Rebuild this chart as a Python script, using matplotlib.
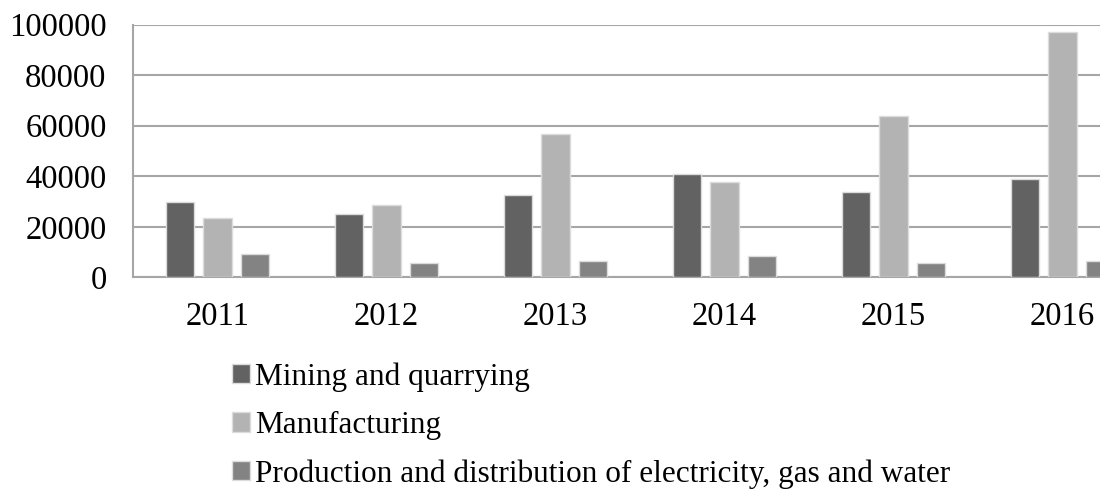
import matplotlib
matplotlib.use("Agg")
import matplotlib.pyplot as plt
import numpy as np

years = ["2011", "2012", "2013", "2014", "2015", "2016"]
mining = [30000, 25200, 32700, 41000, 33700, 39000]
manufacturing = [23600, 28600, 56600, 37600, 63700, 97200]
electricity = [9100, 5500, 6600, 8500, 5500, 6600]

series = [
    ("Mining and quarrying", mining, "#626262"),
    ("Manufacturing", manufacturing, "#b3b3b3"),
    ("Production and distribution of electricity, gas and water", electricity, "#838383"),
]

plt.rcParams["font.family"] = ["Liberation Serif", "DejaVu Serif"]

W, H = 1100, 492
fig = plt.figure(figsize=(W / 100, H / 100), dpi=100)
# axes run past the right edge of the figure, as in the source (clipped)
ax = fig.add_axes([133 / W, (H - 277.3) / H, 1014 / W, 252.6 / H])

x = np.arange(len(years))
bw = 0.168
step = 0.222
for i, (name, vals, col) in enumerate(series):
    ax.bar(x + (i - 1) * step, vals, width=bw, color=col,
           edgecolor="#dcdcdc", linewidth=1.0, label=name, zorder=3)

ax.set_xlim(-0.5, len(years) - 0.5)
ax.set_ylim(0, 100000)
ax.set_yticks(np.arange(0, 100001, 20000))
ax.set_xticks(x)
ax.set_xticklabels(years)
ax.grid(axis="y", color="#a6a6a6", linewidth=1.5, zorder=0)
ax.set_axisbelow(True)
for s in ["top", "right"]:
    ax.spines[s].set_visible(False)
for s in ["left", "bottom"]:
    ax.spines[s].set_color("#a6a6a6")
    ax.spines[s].set_linewidth(1.5)
ax.tick_params(axis="both", length=0, labelsize=23.5)
ax.tick_params(axis="y", pad=19)
ax.tick_params(axis="x", pad=17.5)

handles, labels = ax.get_legend_handles_labels()
fig.legend(handles, labels, loc="upper left",
           bbox_to_anchor=(232 / W, 1 - 362 / H), frameon=False,
           fontsize=22.5, handlelength=0.58, handleheight=0.58,
           handletextpad=0.15, labelspacing=0.62, borderaxespad=0,
           borderpad=0)

fig.savefig("out.png", dpi=100)
